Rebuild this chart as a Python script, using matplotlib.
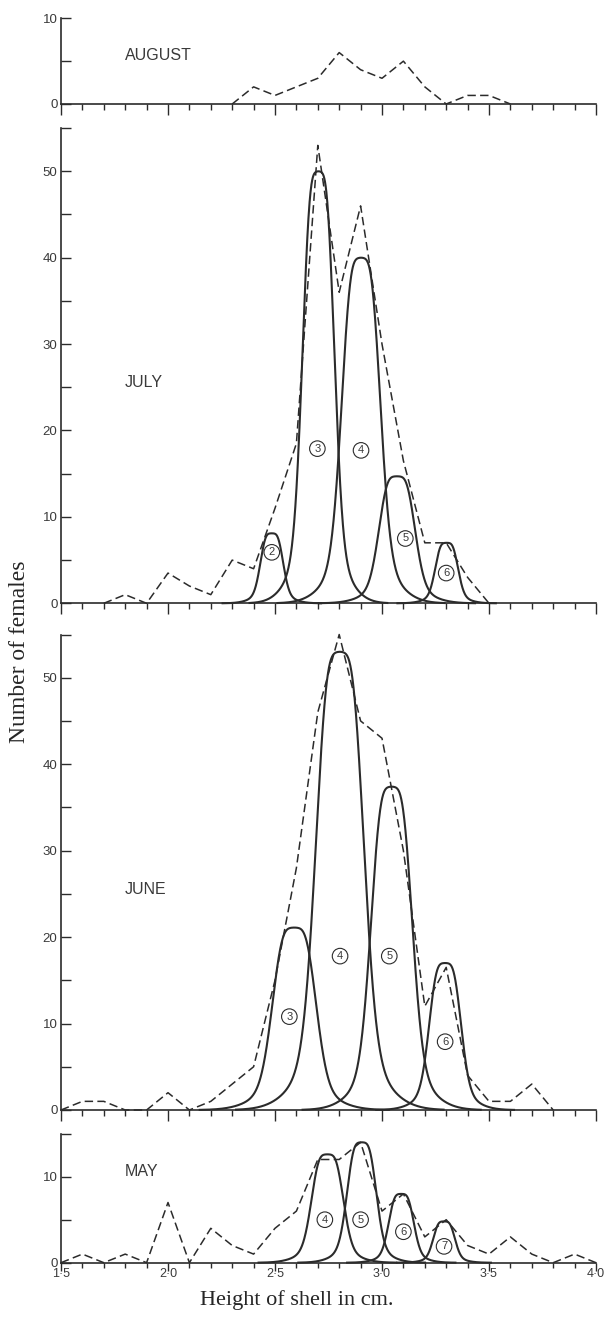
import numpy as np
import matplotlib
matplotlib.use("Agg")
import matplotlib.pyplot as plt
from matplotlib.ticker import MultipleLocator

# ---------------- data ----------------
aug_x = [2.3, 2.4, 2.5, 2.6, 2.7, 2.8, 2.9, 3.0, 3.1, 3.2, 3.3, 3.4, 3.5, 3.6]
aug_y = [0, 2, 1, 2, 3, 6, 4, 3, 5, 2, 0, 1, 1, 0]

jul_x = [1.7, 1.8, 1.9, 2.0, 2.1, 2.2, 2.3, 2.4, 2.5, 2.6, 2.7, 2.8, 2.9, 3.0,
         3.1, 3.2, 3.3, 3.4, 3.5]
jul_y = [0, 1, 0, 3.5, 2, 1, 5, 4, 11, 18.5, 53, 36, 46, 30,
         16.5, 7, 7, 3, 0]

jun_x = [1.5, 1.6, 1.7, 1.8, 1.9, 2.0, 2.1, 2.2, 2.3, 2.4, 2.5, 2.6, 2.7, 2.8,
         2.9, 3.0, 3.1, 3.2, 3.3, 3.4, 3.5, 3.6, 3.7, 3.8]
jun_y = [0, 1, 1, 0, 0, 2, 0, 1, 3, 5, 15, 28, 46, 55,
         45, 43, 30, 12, 16.5, 4, 1, 1, 3, 0]

may_x = [1.5, 1.6, 1.7, 1.8, 1.9, 2.0, 2.1, 2.2, 2.3, 2.4, 2.5, 2.6, 2.7, 2.8,
         2.9, 3.0, 3.1, 3.2, 3.3, 3.4, 3.5, 3.6, 3.7, 3.8, 3.9, 4.0]
may_y = [0, 1, 0, 1, 0, 7, 0, 4, 2, 1, 4, 6, 12, 12,
         14, 6, 8, 3, 5, 2, 1, 3, 1, 0, 1, 0]

# fitted components: age class, mean, peak height, spread, top half-width
jul_class = ["2", "3", "4", "5", "6"]
jul_mean = [2.485, 2.703, 2.902, 3.07, 3.302]
jul_peak = [8.1, 50, 40, 14.7, 7]
jul_sd = [0.027, 0.038, 0.046, 0.043, 0.027]
jul_top = [0.0266, 0.037, 0.045, 0.042, 0.0266]
jul_lab_x = [2.485, 2.698, 2.902, 3.109, 3.30]
jul_lab_y = [5.9, 17.9, 17.7, 7.5, 3.5]

jun_class = ["3", "4", "5", "6"]
jun_mean = [2.59, 2.803, 3.045, 3.295]
jun_peak = [21.1, 53, 37.4, 17]
jun_sd = [0.052, 0.057, 0.049, 0.038]
jun_top = [0.051, 0.056, 0.048, 0.037]
jun_lab_x = [2.567, 2.804, 3.034, 3.295]
jun_lab_y = [10.8, 17.8, 17.8, 7.9]

may_class = ["4", "5", "6", "7"]
may_mean = [2.745, 2.905, 3.09, 3.29]
may_peak = [12.6, 14, 8, 4.8]
may_sd = [0.038, 0.035, 0.03, 0.026]
may_top = [0.037, 0.034, 0.029, 0.025]
may_lab_x = [2.733, 2.90, 3.10, 3.29]
may_lab_y = [5.0, 5.0, 3.6, 1.9]

months = ["AUGUST", "JULY", "JUNE", "MAY"]
month_label_y = [5.7, 25.5, 25.5, 10.6]
y_tops = [10, 55, 55, 15]
x_ticklabels = ["1·5", "2·0", "2·5", "3·0", "3·5", "4·0"]

# hand-drawn curve shape
TOP_POWER = 2.6      # how flat the rounded tops are
SKIRT_SHARE = 0.18   # share of the wide skirt under each bell
SKIRT_SCALE = 1.3    # skirt width relative to the bell

# ---------------- styling ----------------
INK = "#2b2b2b"
TXT = "#3a3a3a"
SANS = ["Liberation Sans", "DejaVu Sans"]
SERIF = ["Liberation Serif", "DejaVu Serif"]

W, H = 607, 1317
fig = plt.figure(figsize=(W / 100, H / 100), dpi=100)
fig.patch.set_facecolor("white")

left = 61 / W
width = 535 / W
# (pixel row of the zero line, pixel row of the axis top)
rects_px = [(104.0, 18.3), (603.3, 128.1), (1110.0, 634.5), (1262.7, 1133.7)]

series = [
    (aug_x, aug_y, None),
    (jul_x, jul_y, (jul_class, jul_mean, jul_peak, jul_sd, jul_top,
                    jul_lab_x, jul_lab_y)),
    (jun_x, jun_y, (jun_class, jun_mean, jun_peak, jun_sd, jun_top,
                    jun_lab_x, jun_lab_y)),
    (may_x, may_y, (may_class, may_mean, may_peak, may_sd, may_top,
                    may_lab_x, may_lab_y)),
]


def component(xx, m, p, s, w):
    # bell curve with a broad rounded top and a soft, wide skirt
    d = np.abs(xx - m)
    g = (d ** TOP_POWER + w ** TOP_POWER) ** (1 / TOP_POWER) - w
    core = np.exp(-0.5 * (g / s) ** 2)
    skirt = np.exp(-0.5 * (d / (SKIRT_SCALE * (s + w))) ** 2)
    return p * ((1 - SKIRT_SHARE) * core + SKIRT_SHARE * skirt)


for i, ((xs, ys, comps), (b_px, t_px)) in enumerate(zip(series, rects_px)):
    bottom = 1 - b_px / H
    height = (b_px - t_px) / H
    ax = fig.add_axes([left, bottom, width, height])
    ax.set_facecolor("none")
    ax.set_xlim(1.5, 4.0)
    ax.set_ylim(0, y_tops[i])
    for s in ["top", "right"]:
        ax.spines[s].set_visible(False)
    for s in ["left", "bottom"]:
        ax.spines[s].set_color(INK)
        ax.spines[s].set_linewidth(1.2)

    # observed frequencies (dashed)
    ax.plot(xs, ys, color=INK, lw=1.1, linestyle=(0, (5.5, 2.8)), clip_on=False)

    # fitted components (solid)
    if comps is not None:
        cls, mu, pk, sd, tw, lx, ly = comps
        for c, m, p, s, w, tx, ty in zip(cls, mu, pk, sd, tw, lx, ly):
            half = 3.3 * SKIRT_SCALE * (s + w)
            xx = np.linspace(m - half, m + half, 600)
            ax.plot(xx, component(xx, m, p, s, w), color=INK, lw=1.5,
                    clip_on=False)
            ax.text(tx, ty, c, ha="center", va="center", fontsize=8,
                    family=SANS, color=TXT,
                    bbox=dict(boxstyle="circle,pad=0.25", fc="none",
                              ec=INK, lw=0.8))

    # month label
    ax.text(1.80, month_label_y[i], months[i], ha="left", va="center",
            fontsize=11.5, family=SANS, color=TXT)

    # ticks
    ax.xaxis.set_major_locator(MultipleLocator(0.5))
    ax.xaxis.set_minor_locator(MultipleLocator(0.1))
    ax.yaxis.set_major_locator(MultipleLocator(10))
    ax.yaxis.set_minor_locator(MultipleLocator(5))
    last = i == len(series) - 1
    if last:
        ax.tick_params(axis="x", which="major", direction="out", length=6,
                       width=1.0, color=INK, pad=-2.5, labelsize=9,
                       labelcolor=TXT)
        ax.tick_params(axis="x", which="minor", direction="out", length=3.6,
                       width=1.0, color=INK)
        ax.set_xticks([1.5, 2.0, 2.5, 3.0, 3.5, 4.0])
        ax.set_xticklabels(x_ticklabels, family=SANS)
    else:
        ax.tick_params(axis="x", which="major", direction="out", length=8,
                       width=1.0, color=INK, labelbottom=False)
        ax.tick_params(axis="x", which="minor", direction="out", length=4.3,
                       width=1.0, color=INK)
    ax.tick_params(axis="y", which="both", direction="in", length=7.5,
                   width=1.0, color=INK)
    ax.tick_params(axis="y", which="major", pad=2.5, labelsize=9.5,
                   labelcolor=TXT)
    for lab in ax.get_yticklabels():
        lab.set_family(SANS)

fig.text(20 / W, 1 - 652 / H, "Number of females", rotation=90,
         ha="center", va="center", fontsize=17, family=SERIF, color="#262626")
fig.text(297 / W, 1 - 1300 / H, "Height of shell in cm.", ha="center",
         va="center", fontsize=16, family=SERIF, color="#262626")

fig.savefig("out.png", dpi=100, facecolor="white")
